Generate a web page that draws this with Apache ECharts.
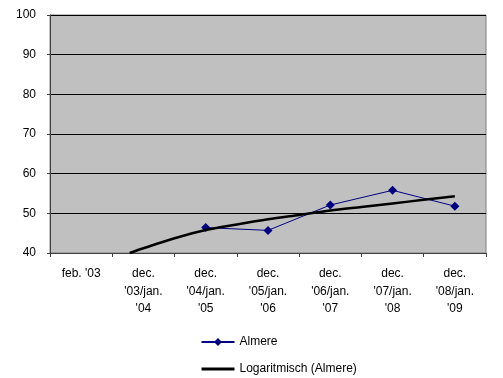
<!DOCTYPE html>
<html><head><meta charset="utf-8">
<script src="https://cdn.jsdelivr.net/npm/echarts@6/dist/echarts.min.js"></script>
<style>html,body{margin:0;padding:0;background:#fff}#c{width:503px;height:378px}</style>
</head><body><div id="c"></div>
<script>
const categories = ["feb. '03", "dec.\n'03/jan.\n'04", "dec.\n'04/jan.\n'05", "dec.\n'05/jan.\n'06", "dec.\n'06/jan.\n'07", "dec.\n'07/jan.\n'08", "dec.\n'08/jan.\n'09"];
const almere = [null, null, 46.4, 45.7, 52.1, 55.8, 51.8];
// trendline at fractional category positions
const trendX = [0.78, 1, 1.5, 2, 2.5, 3, 3.5, 4, 4.5, 5, 5.5, 6];
const trendY = [40.0, 41.2, 43.7, 45.8, 47.2, 48.5, 49.6, 50.7, 51.6, 52.5, 53.4, 54.3];
const yTicks = [40, 50, 60, 70, 80, 90, 100];

const chart = echarts.init(document.getElementById('c'), null, {renderer: 'canvas'});
const font = 'Liberation Sans, Arial, sans-serif';
chart.setOption({
  animation: false,
  backgroundColor: '#ffffff',
  textStyle: {fontFamily: font},
  grid: {left: 50, right: 17, top: 15, bottom: 125, show: true, backgroundColor: '#C0C0C0', borderColor: '#808080', borderWidth: 1},
  xAxis: [{
    type: 'category', data: categories, boundaryGap: true,
    axisLine: {show: true, onZero: false, lineStyle: {color: '#404040', width: 1}},
    axisTick: {show: true, length: 4, lineStyle: {color: '#404040'}},
    axisLabel: {interval: 0, margin: 12, fontSize: 12, lineHeight: 17.5, color: '#000', fontFamily: font},
    splitLine: {show: false}
  }, {
    type: 'value', min: -0.5, max: 6.5, show: false
  }],
  yAxis: {
    type: 'value', min: yTicks[0], max: yTicks[yTicks.length - 1], interval: 10,
    axisLine: {show: true, onZero: false, lineStyle: {color: '#404040'}},
    axisTick: {show: true, length: 3, lineStyle: {color: '#404040'}},
    axisLabel: {fontSize: 12, color: '#000', margin: 14, fontFamily: font},
    splitLine: {show: true, lineStyle: {color: '#000', width: 1}}
  },
  legend: {
    orient: 'vertical', left: 200, top: 336, padding: 0, height: 42,
    itemWidth: 33, itemHeight: 10, itemGap: 15,
    textStyle: {fontSize: 12, color: '#000', fontFamily: font},
    data: [
      {name: 'Almere'},
      {name: 'Logaritmisch (Almere)', itemStyle: {opacity: 0}, lineStyle: {color: '#000', width: 3}}
    ]
  },
  series: [{
    name: 'Almere', type: 'line', data: almere, xAxisIndex: 0,
    symbol: 'diamond', symbolSize: 9, connectNulls: false,
    lineStyle: {color: '#000080', width: 1},
    itemStyle: {color: '#000080'}, z: 3
  }, {
    name: 'Logaritmisch (Almere)', type: 'line', xAxisIndex: 1,
    data: trendX.map((x, i) => [x, trendY[i]]),
    symbol: 'none', smooth: 0.3, clip: true,
    lineStyle: {color: '#000', width: 2.5},
    itemStyle: {color: '#000'}, z: 4
  }]
});
</script></body></html>
